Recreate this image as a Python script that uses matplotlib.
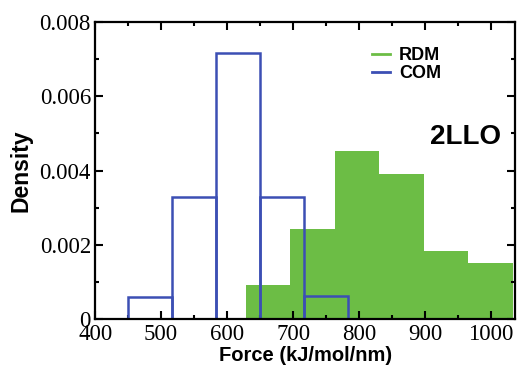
import numpy as np
import matplotlib
matplotlib.use("Agg")
import matplotlib.pyplot as plt
from matplotlib.lines import Line2D
from matplotlib.ticker import MultipleLocator

# histogram bins
rdm_edges = [628, 695.5, 763, 830.5, 898, 965.5, 1033]
rdm_density = [0.00092, 0.00242, 0.00453, 0.00392, 0.00182, 0.00152]

com_edges = [450, 516.7, 583.3, 650, 716.7, 783.3]
com_density = [0.0006, 0.00329, 0.00718, 0.0033, 0.00062]

ytick_vals = [0, 0.002, 0.004, 0.006, 0.008]
ytick_labels = ["0", "0.002", "0.004", "0.006", "0.008"]
xtick_vals = [400, 500, 600, 700, 800, 900, 1000]

green = "#6cbd45"
blue = "#3c4fb4"

fig = plt.figure(figsize=(5.17, 3.68), dpi=100)
ax = fig.add_axes([0.184, 0.133, 0.813, 0.807])

# RDM filled bars
ax.bar(rdm_edges[:-1], rdm_density, width=np.diff(rdm_edges), align="edge",
       color=green, edgecolor="none", zorder=1)
# COM open bars
ax.bar(com_edges[:-1], com_density, width=np.diff(com_edges), align="edge",
       fill=False, edgecolor=blue, linewidth=1.8, zorder=2)

ax.set_xlim(400, 1037)
ax.set_ylim(0, 0.008)
ax.set_xticks(xtick_vals)
ax.set_yticks(ytick_vals)
ax.set_yticklabels(ytick_labels)
ax.xaxis.set_minor_locator(MultipleLocator(50))
ax.yaxis.set_minor_locator(MultipleLocator(0.001))

ax.tick_params(which="both", direction="in", top=True, right=True, width=1.5)
ax.tick_params(which="major", length=6)
ax.tick_params(which="minor", length=3)
for lab in ax.get_xticklabels() + ax.get_yticklabels():
    lab.set_fontfamily("Liberation Serif")
    lab.set_fontsize(16.5)
ax.tick_params(axis="x", pad=3.5)
ax.tick_params(axis="y", pad=3)
# nudge the zero label up a touch so it sits just above the 400
ax.get_yticklabels()[0].set_va("center_baseline")
for s in ax.spines.values():
    s.set_linewidth(1.6)

ax.set_xlabel("Force (kJ/mol/nm)", fontfamily="Liberation Sans", fontweight="bold",
              fontsize=14.5, labelpad=1)
ax.set_ylabel("Density", fontfamily="Liberation Sans", fontweight="bold",
              fontsize=16.5, labelpad=5)

handles = [Line2D([], [], color=green, lw=2), Line2D([], [], color=blue, lw=2)]
leg = ax.legend(handles, ["RDM", "COM"], loc="upper left", bbox_to_anchor=(0.62, 0.97),
                frameon=False, handlelength=1.0, handletextpad=0.5, labelspacing=0.05,
                prop={"family": "Liberation Sans", "weight": "bold", "size": 13})

ax.text(0.966, 0.613, "2LLO", transform=ax.transAxes, ha="right", va="center",
        fontfamily="Liberation Sans", fontweight="bold", fontsize=20)

fig.savefig("out.png", dpi=100)
